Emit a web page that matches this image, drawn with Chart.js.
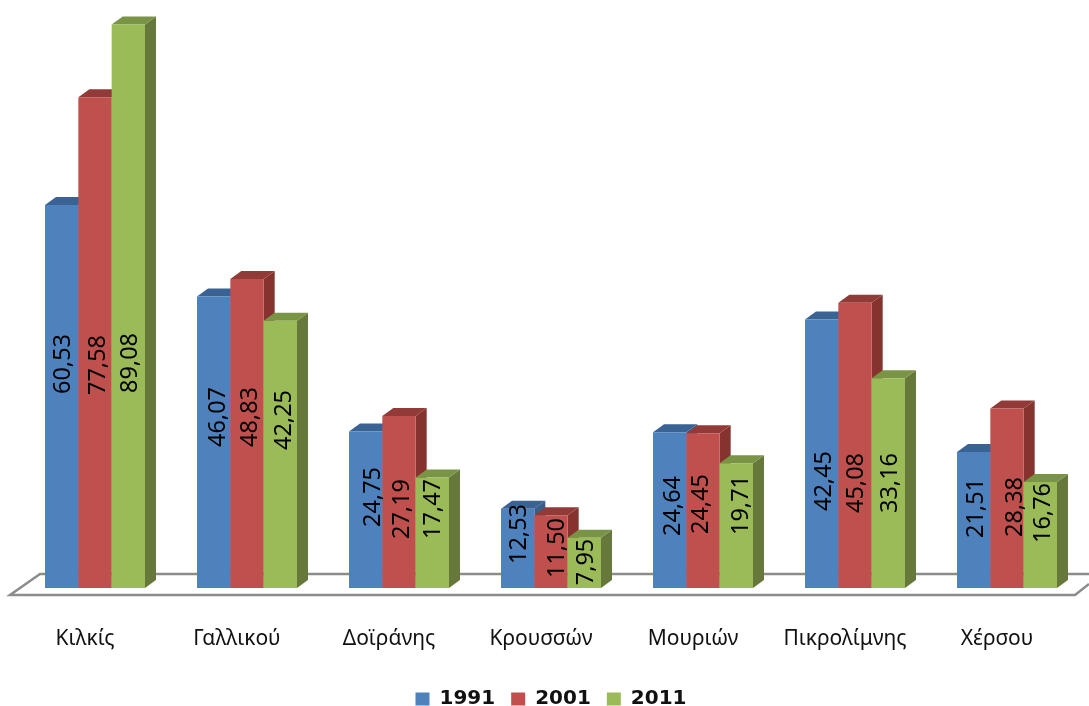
<!DOCTYPE html>
<html>
<head>
<meta charset="utf-8">
<script src="https://cdn.jsdelivr.net/npm/chart.js@4"></script>
<style>
html, body { margin: 0; padding: 0; background: #fff; }
#box { width: 1089px; height: 706px; }
</style>
</head>
<body>
<div id="box"><canvas id="chart"></canvas></div>
<script>
// data
const categories = ['Κιλκίς', 'Γαλλικού', 'Δοϊράνης', 'Κρουσσών', 'Μουριών', 'Πικρολίμνης', 'Χέρσου'];
const years = ['1991', '2001', '2011'];
const values1991 = [60.53, 46.07, 24.75, 12.53, 24.64, 42.45, 21.51];
const values2001 = [77.58, 48.83, 27.19, 11.50, 24.45, 45.08, 28.38];
const values2011 = [89.08, 42.25, 17.47, 7.95, 19.71, 33.16, 16.76];

// value labels were hand placed in the original: height above the floor, sideways nudge
const lift1991 = [224, 171, 91, 54, 82, 107, 80];
const lift2001 = [223, 171, 79, 40, 84, 105, 81];
const lift2011 = [225, 168, 79, 26, 83, 105, 75];
const nudge1991 = [2, 5, 8, 2, 4, 3, 3];
const nudge2001 = [3, 3, 3, 6, -2, 1, 8];
const nudge2011 = [2, 4, 1, 2, 5, 2, 3];

const DEPTH_X = 11;
const DEPTH_Y = 8;

function makeSet(i, values, lift, nudge, front, top, side) {
    return {
        label: years[i],
        data: values,
        backgroundColor: front,
        topColor: top,
        sideColor: side,
        lift: lift,
        nudge: nudge,
        categoryPercentage: 100 / 152,
        barPercentage: 1,
        borderWidth: 0
    };
}

function drawFloor(chart) {
    const ctx = chart.ctx;
    const b = chart.scales.y.getPixelForValue(0);
    ctx.save();
    ctx.strokeStyle = '#8c8c8c';
    ctx.lineWidth = 2.5;
    ctx.beginPath();
    ctx.moveTo(1089, b - 14);
    ctx.lineTo(40, b - 14);
    ctx.lineTo(10, b + 7);
    ctx.lineTo(1075, b + 7);
    ctx.lineTo(1089, b - 4);
    ctx.stroke();
    ctx.restore();
}

// side and top faces of one series
function drawFaces(chart, i) {
    const ctx = chart.ctx;
    const ds = chart.data.datasets[i];
    chart.getDatasetMeta(i).data.forEach(bar => {
        const right = bar.x + bar.width / 2;
        const left = bar.x - bar.width / 2;
        ctx.fillStyle = ds.sideColor;
        ctx.beginPath();
        ctx.moveTo(right, bar.base);
        ctx.lineTo(right + DEPTH_X, bar.base - DEPTH_Y);
        ctx.lineTo(right + DEPTH_X, bar.y - DEPTH_Y);
        ctx.lineTo(right, bar.y);
        ctx.closePath();
        ctx.fill();
        ctx.fillStyle = ds.topColor;
        ctx.beginPath();
        ctx.moveTo(left, bar.y);
        ctx.lineTo(left + DEPTH_X, bar.y - DEPTH_Y);
        ctx.lineTo(right + DEPTH_X, bar.y - DEPTH_Y);
        ctx.lineTo(right, bar.y);
        ctx.closePath();
        ctx.fill();
    });
}

function drawValueLabels(chart) {
    const ctx = chart.ctx;
    chart.data.datasets.forEach((ds, i) => {
        chart.getDatasetMeta(i).data.forEach((bar, j) => {
            ctx.save();
            ctx.translate(bar.x + ds.nudge[j], bar.base - ds.lift[j]);
            ctx.rotate(-Math.PI / 2);
            ctx.font = '23.5px "Noto Sans"';
            ctx.fillStyle = '#000';
            ctx.textAlign = 'center';
            ctx.textBaseline = 'middle';
            ctx.fillText(ds.data[j].toFixed(2).replace('.', ','), 0, 0);
            ctx.restore();
        });
    });
}

// paint the series left to right so each one covers the side of the one before
const bars3d = {
    id: 'bars3d',
    beforeDatasetsDraw(chart) {
        drawFloor(chart);
        chart.data.datasets.forEach((ds, i) => {
            drawFaces(chart, i);
            chart.getDatasetMeta(i).controller.draw();
        });
        drawValueLabels(chart);
        return false;
    }
};

new Chart(document.getElementById('chart'), {
    type: 'bar',
    data: {
        labels: categories,
        datasets: [
            makeSet(0, values1991, lift1991, nudge1991, '#4F81BD', '#3A6292', '#385D8A'),
            makeSet(1, values2001, lift2001, nudge2001, '#C0504D', '#913A38', '#86332F'),
            makeSet(2, values2011, lift2011, nudge2011, '#9BBB59', '#7A9445', '#66783A')
        ]
    },
    options: {
        responsive: true,
        maintainAspectRatio: false,
        animation: false,
        layout: { padding: { left: 19, right: 6, top: 6, bottom: -13 } },
        plugins: {
            tooltip: { enabled: false },
            legend: {
                position: 'bottom',
                labels: {
                    color: '#111',
                    boxWidth: 14,
                    boxHeight: 13,
                    padding: 16,
                    font: { family: '"DejaVu Sans"', size: 20, weight: 'bold' }
                }
            }
        },
        scales: {
            x: {
                afterFit(scale) { scale.height = 85; },
                grid: { display: false },
                border: { display: false },
                ticks: {
                    color: '#111',
                    padding: 30,
                    labelOffset: -10,
                    maxRotation: 0,
                    autoSkip: false,
                    font: { family: '"Noto Sans"', size: 21 }
                }
            },
            y: {
                display: false,
                min: 0,
                max: 92
            }
        }
    },
    plugins: [bars3d]
});
</script>
</body>
</html>
